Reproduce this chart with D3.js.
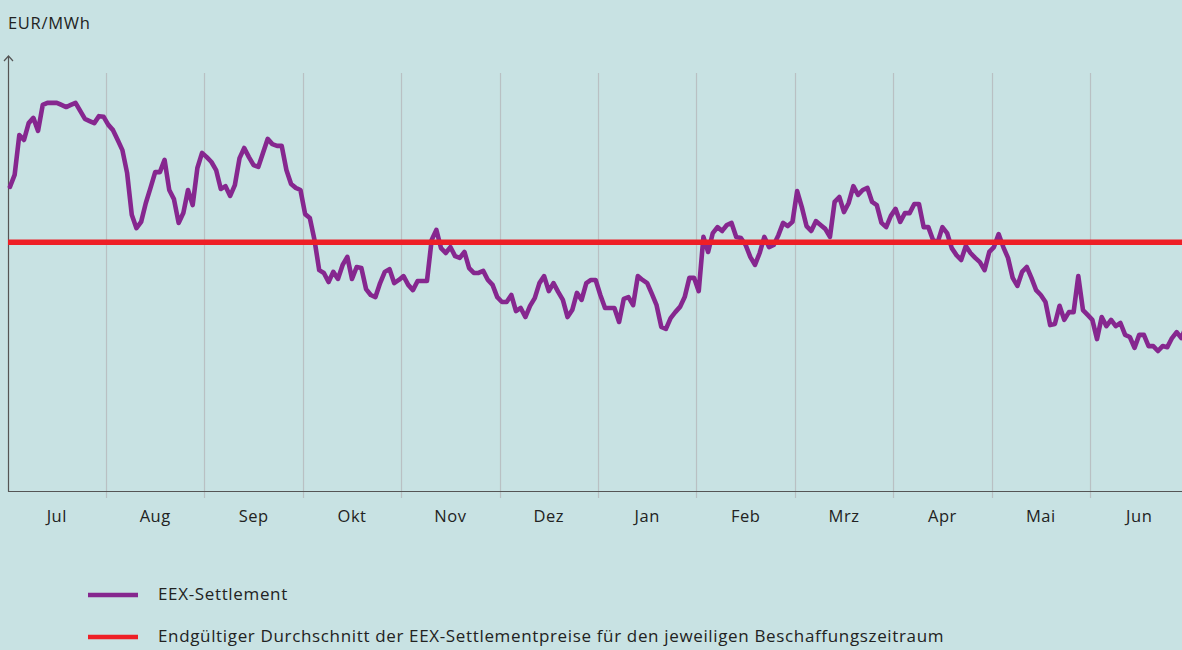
<!DOCTYPE html>
<html>
<head>
<meta charset="utf-8">
<script src="https://cdn.jsdelivr.net/npm/d3@7/dist/d3.min.js"></script>
<style>
  html, body { margin: 0; padding: 0; background: #c8e2e3; }
  svg { display: block; font-family: "Open Sans", Lato, sans-serif; }
</style>
</head>
<body>
<svg id="chart" width="1182" height="650"></svg>
<script>
// month categories (delivery period Jul - Jun)
var months = ["Jul", "Aug", "Sep", "Okt", "Nov", "Dez", "Jan", "Feb", "Mrz", "Apr", "Mai", "Jun"];

// EEX settlement prices, EUR/MWh, one value per trading day, grouped by month
var pricesJul = [86.9, 90.3, 101.7, 100.3, 105.1, 106.6, 102.9, 110.3, 110.9, 110.9, 110.9, 110.3, 109.7, 110.3, 110.9, 108.6, 106.3, 105.7, 105.1, 107.1, 106.9];
var pricesAug = [104.6, 103.1, 100.3, 97.4, 90.9, 78.9, 75.1, 76.9, 82.3, 86.6, 91.1, 91.1, 94.6, 86.0, 83.4, 76.6, 79.4, 86.0, 81.7, 92.3, 96.6];
var pricesSep = [95.4, 94.0, 91.7, 86.3, 87.1, 84.3, 87.4, 95.1, 98.0, 95.4, 93.1, 92.6, 96.6, 100.6, 99.1, 98.6, 98.6, 91.7, 87.7, 86.6, 86.0];
var pricesOkt = [79.1, 78.0, 71.7, 63.1, 62.3, 59.7, 62.6, 60.6, 64.6, 66.9, 60.6, 64.0, 63.7, 57.7, 56.0, 55.4, 59.4, 62.6, 63.4, 59.4, 60.3];
var pricesNov = [61.4, 58.9, 57.4, 60.0, 60.0, 60.0, 71.7, 74.6, 69.4, 68.0, 69.7, 67.1, 66.6, 68.3, 63.7, 62.3, 62.3, 62.9, 60.3, 58.9, 55.4];
var pricesDez = [54.0, 54.0, 56.0, 51.4, 52.3, 49.7, 52.9, 55.1, 59.4, 61.4, 57.1, 59.4, 56.9, 54.6, 49.7, 51.7, 56.6, 54.6, 59.4, 60.3, 60.3];
var pricesJan = [56.0, 52.3, 52.3, 52.3, 48.3, 54.9, 55.4, 53.1, 61.4, 60.3, 59.4, 56.3, 53.1, 46.9, 46.3, 49.4, 51.1, 52.6, 55.4, 60.9, 60.9];
var pricesFeb = [57.1, 72.6, 68.3, 73.7, 75.4, 74.3, 76.0, 76.6, 72.6, 72.3, 70.3, 66.9, 64.6, 68.0, 72.6, 69.7, 70.3, 73.1, 76.6, 75.7, 76.9];
var pricesMrz = [85.7, 81.1, 75.7, 74.3, 77.1, 76.0, 74.9, 72.6, 82.6, 84.0, 79.7, 82.3, 87.1, 84.6, 86.0, 86.6, 82.6, 81.7, 76.6, 75.4, 78.6];
var pricesApr = [80.6, 76.9, 79.4, 79.4, 82.0, 82.0, 75.4, 75.4, 71.7, 71.1, 75.4, 73.7, 69.4, 67.4, 66.0, 70.0, 68.0, 66.6, 65.4, 63.1, 68.3];
var pricesMai = [69.7, 73.4, 69.7, 66.6, 60.9, 58.6, 62.6, 64.0, 60.9, 57.4, 56.0, 54.0, 47.4, 47.7, 52.9, 48.9, 51.1, 51.1, 61.4, 51.7, 50.3];
var pricesJun = [48.9, 43.4, 49.7, 47.1, 48.9, 47.1, 48.0, 44.6, 44.0, 40.9, 44.6, 44.6, 41.4, 41.4, 40.0, 41.4, 41.1, 43.7, 45.4, 43.7, 46.9];

// final average of the settlement prices for the procurement period
var averagePrice = 71.1;

var legendLabels = [
  "EEX-Settlement",
  "Endgültiger Durchschnitt der EEX-Settlementpreise für den jeweiligen Beschaffungszeitraum"
];

var monthlyPrices = [pricesJul, pricesAug, pricesSep, pricesOkt, pricesNov, pricesDez,
                     pricesJan, pricesFeb, pricesMrz, pricesApr, pricesMai, pricesJun];

var purple = "#86278f";
var red = "#ee1f26";

var svg = d3.select("#chart");

var x = d3.scaleBand()
    .domain(months)
    .range([7.6, 1188.4])
    .padding(0);

var y = d3.scaleLinear()
    .domain([0, 124])
    .range([491, 57]);

// flatten daily values with their position inside the month band
var points = [];
months.forEach(function(m, mi) {
    var vals = monthlyPrices[mi];
    vals.forEach(function(v, i) {
        points.push({ month: m, frac: (i + 0.5) / vals.length, value: v });
    });
});

// vertical month separators
svg.append("g")
    .attr("class", "grid")
    .selectAll("line")
    .data(months.slice(1))
    .enter().append("line")
        .attr("x1", function(d) { return Math.round(x(d)) + 0.5; })
        .attr("x2", function(d) { return Math.round(x(d)) + 0.5; })
        .attr("y1", 73)
        .attr("y2", 498)
        .attr("stroke", "#b9c0c3")
        .attr("stroke-width", 1.2);

// axes
svg.append("line")
    .attr("x1", 8.5).attr("x2", 8.5)
    .attr("y1", 56).attr("y2", 491.5)
    .attr("stroke", "#555").attr("stroke-width", 1.2);
svg.append("path")
    .attr("d", "M4,61 L8.5,56 L13,61")
    .attr("fill", "none")
    .attr("stroke", "#555").attr("stroke-width", 1.2);
svg.append("line")
    .attr("x1", 8).attr("x2", 1182)
    .attr("y1", 491.5).attr("y2", 491.5)
    .attr("stroke", "#555").attr("stroke-width", 1.2);

// month labels
svg.append("g")
    .selectAll("text")
    .data(months)
    .enter().append("text")
        .attr("x", function(d) { return x(d) + x.bandwidth() / 2; })
        .attr("y", 522)
        .attr("text-anchor", "middle")
        .attr("font-size", 16.5)
        .attr("letter-spacing", 0.5)
        .attr("fill", "#222")
        .text(function(d) { return d; });

svg.append("text")
    .attr("x", 8)
    .attr("y", 29)
    .attr("font-size", 16.5)
    .attr("letter-spacing", 0.7)
    .attr("fill", "#222")
    .text("EUR/MWh");

// price line
var line = d3.line()
    .x(function(d) { return x(d.month) + d.frac * x.bandwidth(); })
    .y(function(d) { return y(d.value); })
    .curve(d3.curveLinear);

svg.append("path")
    .datum(points)
    .attr("fill", "none")
    .attr("stroke", purple)
    .attr("stroke-width", 4.6)
    .attr("stroke-linejoin", "round")
    .attr("stroke-linecap", "round")
    .attr("d", line);

// average line
svg.append("line")
    .attr("x1", 8).attr("x2", 1182)
    .attr("y1", y(averagePrice)).attr("y2", y(averagePrice))
    .attr("stroke", red)
    .attr("stroke-width", 5.5);

// legend
var legend = svg.append("g").attr("class", "legend");
var legendColors = [purple, red];
var legendRows = legend.selectAll("g")
    .data(legendLabels)
    .enter().append("g")
        .attr("transform", function(d, i) { return "translate(0," + (595 + i * 42) + ")"; });
legendRows.append("line")
    .attr("x1", 88).attr("x2", 138)
    .attr("y1", 0).attr("y2", 0)
    .attr("stroke", function(d, i) { return legendColors[i]; })
    .attr("stroke-width", 4.5);
legendRows.append("text")
    .attr("x", 158)
    .attr("y", 5)
    .attr("font-size", 17)
    .attr("letter-spacing", 0.65)
    .attr("fill", "#222")
    .text(function(d) { return d; });
</script>
</body>
</html>
